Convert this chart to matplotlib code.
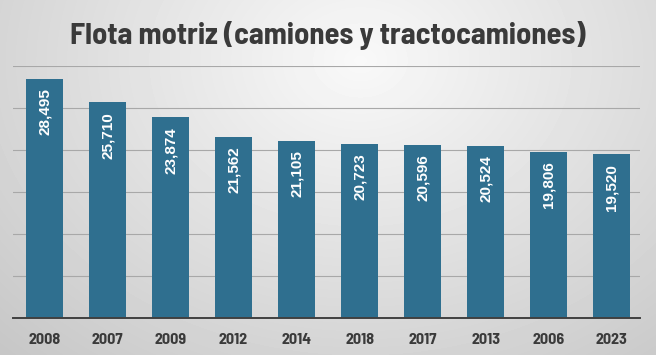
import numpy as np
import matplotlib
matplotlib.use("Agg")
import matplotlib.pyplot as plt

# data
years = ["2008", "2007", "2009", "2012", "2014", "2018", "2017", "2013", "2006", "2023"]
flota = [28495, 25710, 23874, 21562, 21105, 20723, 20596, 20524, 19806, 19520]
title = "Flota motriz (camiones y tractocamiones)"

bar_color = "#2f6f8f"
text_dark = "#3a3a3a"
cond = ["Barlow Semi Condensed", "DejaVu Sans"]
label_font = ["Liberation Sans", "DejaVu Sans"]

fig = plt.figure(figsize=(6.56, 3.55), dpi=100)

# radial gray gradient background
bg = fig.add_axes([0, 0, 1, 1])
yy, xx = np.mgrid[0:355, 0:656]
r = np.sqrt(((xx - 360) / 420.0) ** 2 + ((yy - 60) / 330.0) ** 2)
shade = np.clip(0.975 - 0.16 * r, 0.78, 1.0)
bg.imshow(shade, cmap="gray", vmin=0, vmax=1, extent=[0, 1, 0, 1], aspect="auto")
bg.axis("off")

ax = fig.add_axes([13 / 656, 1 - 318 / 355, 627 / 656, (318 - 66) / 355])
ax.patch.set_alpha(0)
x = np.arange(len(years))
bars = ax.bar(x, flota, width=0.59, color=bar_color, zorder=3)

ax.set_xlim(-0.5, 9.45)
ax.set_ylim(0, 30000)
ax.set_yticks(np.arange(0, 30001, 5000))
ax.yaxis.grid(True, color="#a8a8a8", linewidth=0.8, zorder=0)
ax.tick_params(axis="y", left=False, labelleft=False)
ax.tick_params(axis="x", bottom=False, pad=7)
ax.set_xticks(x)
ax.set_xticklabels(years, fontsize=11.5, fontweight="bold", color=text_dark, family=cond)
for s in ["top", "right", "left"]:
    ax.spines[s].set_visible(False)
ax.spines["bottom"].set_color("#404040")
ax.spines["bottom"].set_linewidth(1.4)
ax.spines["bottom"].set_zorder(4)

for xi, v in zip(x, flota):
    ax.annotate(f"{v:,}", (xi, v), xytext=(0, -7), textcoords="offset points",
                rotation=90, ha="center", va="top", color="white",
                fontsize=11, fontweight="bold", family=label_font, zorder=5)

fig.text(0.5, 1 - 35 / 355, title, ha="center", va="center", fontsize=22,
         fontweight="bold", color=text_dark, family=cond)

fig.savefig("out.png", dpi=100)
